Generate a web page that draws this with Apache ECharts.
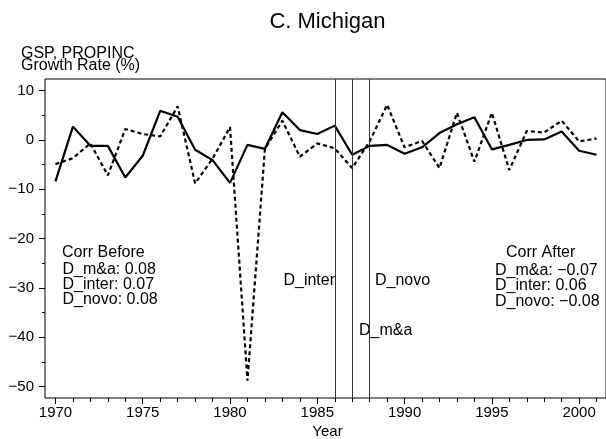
<!DOCTYPE html>
<html>
<head>
<meta charset="utf-8">
<script src="https://cdn.jsdelivr.net/npm/echarts@6/dist/echarts.min.js"></script>
<style>
  html, body { margin: 0; padding: 0; background: #fff; }
  #chart { width: 606px; height: 439px; }
</style>
</head>
<body>
<div id="chart"></div>
<script>
// years on the x axis
const years = [1970, 1971, 1972, 1973, 1974, 1975, 1976, 1977, 1978, 1979,
  1980, 1981, 1982, 1983, 1984, 1985, 1986, 1987, 1988, 1989,
  1990, 1991, 1992, 1993, 1994, 1995, 1996, 1997, 1998, 1999, 2000, 2001]

// GSP growth (solid) and PROPINC growth (dashed)
const gsp = [-8.4, 2.7, -1.2, -1.2, -7.6, -3.2, 5.9, 4.7, -2.0, -4.1,
  -8.7, -1.0, -1.8, 5.6, 2.0, 1.2, 2.9, -3.0, -1.2, -1.0,
  -2.8, -1.5, 1.4, 3.2, 4.6, -1.9, -1.0, 0.0, 0.1, 1.7, -2.2, -3.0]
const propinc = [-4.9, -3.7, -0.7, -7.2, 2.2, 1.2, 0.7, 6.8, -8.8, -3.8,
  2.6, -48.8, -1.8, 3.9, -3.4, -0.7, -1.7, -5.7, -0.3, 7.1,
  -1.5, -0.2, -5.7, 5.5, -4.4, 5.5, -6.1, 1.8, 1.5, 3.9, -0.3, 0.3]

// deregulation years (vertical lines)
const eventYears = [1986, 1987, 1988]

// axis ticks
const xMajorTicks = [1970, 1975, 1980, 1985, 1990, 1995, 2000]
const yMajorTicks = [-50, -40, -30, -20, -10, 0, 10]
const yMinorTicks = [-45, -35, -25, -15, -5, 5]

// correlation notes
const corrBefore = ['D_m&a: 0.08', 'D_inter: 0.07', 'D_novo: 0.08']
const corrAfter = ['D_m&a: \u22120.07', 'D_inter: 0.06', 'D_novo: \u22120.08']

const FONT = '"Liberation Sans", Arial, Helvetica, sans-serif'
const xMin = 1969.4
const xMax = 2001.54
const yMin = -52.3
const yMax = 12.35

const chart = echarts.init(document.getElementById('chart'))

const minus = v => String(v).replace('-', '\u2212')

// small helper for free text
const label = (text, x, y, size, align) => ({
  type: 'text', x: x, y: y,
  style: {
    text: text, font: size + 'px ' + FONT, fill: '#000',
    align: align || 'left', verticalAlign: 'middle'
  }
})

const xBase = {
  type: 'value', min: xMin, max: xMax, position: 'bottom',
  splitLine: { show: false },
  axisLine: { show: false, onZero: false }
}
const yBase = {
  type: 'value', min: yMin, max: yMax, position: 'left',
  splitLine: { show: false },
  axisLine: { show: false, onZero: false }
}

const texts = [
  label('C. Michigan', 327.5, 22, 22, 'center'),
  label('GSP, PROPINC', 21, 53.5, 16),
  label('Growth Rate (%)', 21, 65.5, 16),
  label('Year', 327.5, 432, 15, 'center'),
  label('Corr Before', 62, 252.2, 16),
  label('Corr After', 506, 253, 16),
  label('D_inter', 335, 280.3, 16, 'right'),
  label('D_novo', 375, 280.3, 16),
  label('D_m&a', 359, 330.5, 16)
]
corrBefore.forEach((t, i) => texts.push(label(t, 62.5, 269.7 + i * 15, 16)))
corrAfter.forEach((t, i) => texts.push(label(t, 495, 270.7 + i * 15.2, 16)))

const option = {
  animation: false,
  backgroundColor: '#fff',
  grid: { left: 45, right: -4, top: 79, bottom: 41, show: true, borderColor: '#000', borderWidth: 1 },
  xAxis: [
    Object.assign({}, xBase, {
      axisTick: { show: true, customValues: xMajorTicks, length: 6, lineStyle: { color: '#000' } },
      axisLabel: {
        customValues: xMajorTicks, margin: 7,
        fontFamily: FONT, fontSize: 15, color: '#000',
        formatter: v => String(v)
      }
    }),
    Object.assign({}, xBase, {
      axisTick: { show: true, customValues: years, length: 4, lineStyle: { color: '#000' } },
      axisLabel: { show: false }
    })
  ],
  yAxis: [
    Object.assign({}, yBase, {
      axisTick: { show: true, customValues: yMajorTicks, length: 6, lineStyle: { color: '#000' } },
      axisLabel: {
        customValues: yMajorTicks, margin: 11,
        fontFamily: FONT, fontSize: 15, color: '#000',
        formatter: v => minus(v)
      }
    }),
    Object.assign({}, yBase, {
      axisTick: { show: true, customValues: yMinorTicks, length: 3, lineStyle: { color: '#000' } },
      axisLabel: { show: false }
    })
  ],
  graphic: texts,
  series: [
    {
      name: 'GSP',
      type: 'line',
      data: years.map((y, i) => [y, gsp[i]]),
      symbol: 'none',
      lineStyle: { color: '#000', width: 2.2 },
      markLine: {
        silent: true,
        symbol: 'none',
        label: { show: false },
        lineStyle: { color: '#333', width: 1, type: 'solid' },
        data: eventYears.map(y => ({ xAxis: y }))
      },
      z: 3
    },
    {
      name: 'PROPINC',
      type: 'line',
      data: years.map((y, i) => [y, propinc[i]]),
      symbol: 'none',
      lineStyle: { color: '#000', width: 2.2, type: [4, 3] },
      z: 2
    }
  ]
}

chart.setOption(option)
</script>
</body>
</html>
